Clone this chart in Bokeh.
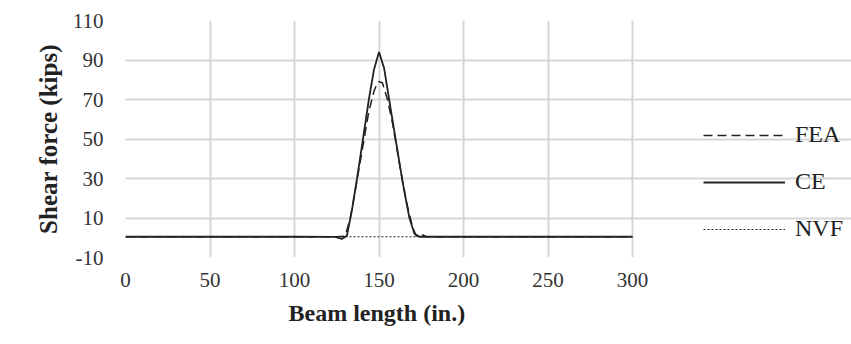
from bokeh.plotting import figure
from bokeh.models import Legend, LegendItem, FixedTicker, Range1d, PrintfTickFormatter, Title
from bokeh.embed import file_html
from bokeh.resources import INLINE

# Data
x_fea = [0, 100, 125, 130, 133, 136, 140, 144, 147, 149, 150, 152, 155, 158, 162, 166, 170, 172, 174, 176, 178, 185, 300]
fea   = [0.5, 0.5, 0.5, 0.8, 10, 24, 44, 64, 74, 78.5, 79, 78.5, 70, 58, 38, 19, 5, 1, 0.3, 1.5, 0.5, 0.5, 0.5]

x_ce = [0, 100, 124, 128, 131, 134, 137, 140, 144, 147, 150, 153, 156, 160, 164, 168, 171, 174, 177, 185, 300]
ce   = [0.5, 0.5, 0.4, -0.6, 1, 14, 30, 47, 70, 85, 94, 86, 70, 49, 28, 10, 2, 0.5, 0.5, 0.5, 0.5]

x_nvf = [0, 130, 150, 175, 300]
nvf   = [0.5, 0.5, 0.5, 0.5, 0.5]

x_ticks = [0, 50, 100, 150, 200, 250, 300]
y_ticks = [-10, 10, 30, 50, 70, 90, 110]

FONT = "Liberation Serif"

# plot area spans x 0..300 over 507 px; the frame is extended to the right to hold the legend
W, H = 851, 344
LEFT, TOP, BOTTOM = 125, 20, 87
frame_w = W - LEFT
x_end = 300 * frame_w / 507.0

p = figure(width=W, height=H, output_backend="svg", toolbar_location=None,
           x_range=Range1d(0, x_end), y_range=Range1d(-10, 110),
           min_border_left=LEFT, min_border_right=0, min_border_top=TOP, min_border_bottom=BOTTOM)

p.background_fill_color = "white"
p.border_fill_color = "white"
p.outline_line_color = None

for ax in (p.xaxis, p.yaxis):
    ax.axis_line_color = None
    ax.major_tick_line_color = None
    ax.minor_tick_line_color = None
    ax.major_tick_out = 0
    ax.major_label_text_font = FONT
    ax.major_label_text_font_size = "21px"
    ax.major_label_text_color = "#333333"
    ax.axis_label_text_font = FONT
    ax.axis_label_text_font_style = "bold"
    ax.axis_label_text_color = "#222222"
    ax.formatter = PrintfTickFormatter(format="%d")

p.yaxis.axis_label_text_font_size = "25px"
p.xaxis.ticker = FixedTicker(ticks=x_ticks)
p.yaxis.ticker = FixedTicker(ticks=y_ticks)
p.xaxis.bounds = (0, 300)
p.xaxis.major_label_standoff = 15
p.yaxis.major_label_standoff = 22
p.yaxis.axis_label = "Shear force (kips)"
p.yaxis.axis_label_standoff = 8

# x axis title, placed under the 0..300 data area
xtitle = Title(text="Beam length (in.)", align="left", offset=163, standoff=17,
               text_font=FONT, text_font_size="24px", text_font_style="bold",
               text_color="#222222")
p.add_layout(xtitle, "below")

p.xgrid.ticker = FixedTicker(ticks=x_ticks)
p.ygrid.ticker = FixedTicker(ticks=y_ticks)
p.xgrid.bounds = (-10, 110)
p.ygrid.bounds = (0, 300)
p.grid.grid_line_color = "#d6d6d6"
p.grid.grid_line_width = 2

r_nvf = p.line(x_nvf, nvf, line_color="#222222", line_width=1.2, line_dash="2 2")
r_fea = p.line(x_fea, fea, line_color="#222222", line_width=1.5, line_dash="9 5")
r_ce = p.line(x_ce, ce, line_color="#222222", line_width=1.8)

legend = Legend(items=[LegendItem(label="FEA", renderers=[r_fea]),
                       LegendItem(label="CE", renderers=[r_ce]),
                       LegendItem(label="NVF", renderers=[r_nvf])],
                location=(578, 15), padding=0, margin=0, spacing=20,
                glyph_width=82, glyph_height=24, label_height=24,
                label_standoff=10,
                label_text_font=FONT, label_text_font_size="24px",
                label_text_color="#222222",
                border_line_alpha=0, background_fill_alpha=0)
p.add_layout(legend, "center")

open("out.html", "w").write(file_html(p, INLINE))
